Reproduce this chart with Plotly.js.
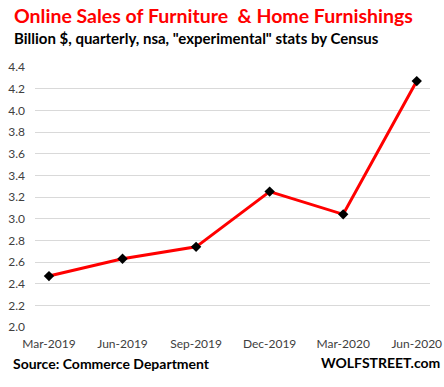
<!DOCTYPE html>
<html><head><meta charset="utf-8">
<script src="https://cdn.plot.ly/plotly-3.0.1.min.js"></script>
<style>html,body{margin:0;padding:0;background:#fff}#chart{width:444px;height:387px}</style>
</head><body><div id="chart"></div>
<script>
const quarters = ["Mar-2019","Jun-2019","Sep-2019","Dec-2019","Mar-2020","Jun-2020"];
const sales = [2.47, 2.63, 2.74, 3.25, 3.04, 4.27];
const yTicks = [2.0,2.2,2.4,2.6,2.8,3.0,3.2,3.4,3.6,3.8,4.0,4.2,4.4];
const xIdx = quarters.map((q,i)=>i);

const font = "Lato, 'Open Sans', sans-serif";
// plot area: x 35..430, y 67..327
const W = 444, H = 387, L = 35, R = 14, T = 67, B = 60;
const pw = W - L - R, ph = H - T - B;
const px = x => (x - L) / pw;
const py = y => (H - B - y) / ph;

Plotly.newPlot('chart', [{
  x: xIdx, y: sales, type: 'scatter', mode: 'lines+markers',
  line: {color: '#ff0000', width: 3},
  marker: {symbol: 'diamond', color: '#000', size: 8},
  hoverinfo: 'skip'
}], {
  width: W, height: H,
  margin: {l: L, r: R, t: T, b: B},
  paper_bgcolor: '#fff', plot_bgcolor: '#fff',
  showlegend: false,
  font: {family: font, color: '#404040', size: 12},
  xaxis: {
    range: [-0.19, 5.18], tickvals: xIdx, ticktext: quarters,
    showgrid: false, zeroline: false, showline: false, ticks: '',
    ticklabelstandoff: 8, tickfont: {size: 12, color: '#404040'}, fixedrange: true
  },
  yaxis: {
    range: [2.0, 4.4], tickvals: yTicks, ticktext: yTicks.map(v=>v.toFixed(1)),
    showgrid: true, gridcolor: '#d9d9d9', gridwidth: 1, zeroline: false, showline: false,
    ticks: '', ticklabelstandoff: 9, tickfont: {size: 12, color: '#404040'}, fixedrange: true
  },
  annotations: [
    {text: '<b>Online Sales of Furniture  &amp; Home Furnishings</b>', xref: 'paper', yref: 'paper',
     x: px(12), y: py(15), xanchor: 'left', yanchor: 'middle', showarrow: false,
     font: {family: font, size: 19.5, color: '#ff0000'}},
    {text: '<b>Billion $, quarterly, nsa, "experimental" stats by Census</b>', xref: 'paper', yref: 'paper',
     x: px(12), y: py(38), xanchor: 'left', yanchor: 'middle', showarrow: false,
     font: {family: font, size: 15, color: '#000'}},
    {text: '<b>Source: Commerce Department</b>', xref: 'paper', yref: 'paper',
     x: px(11), y: py(363), xanchor: 'left', yanchor: 'middle', showarrow: false,
     font: {family: font, size: 14, color: '#000'}},
    {text: '<b>WOLFSTREET.com</b>', xref: 'paper', yref: 'paper',
     x: px(442), y: py(362), xanchor: 'right', yanchor: 'middle', showarrow: false,
     font: {family: font, size: 14, color: '#000'}}
  ]
}, {staticPlot: true});
</script></body></html>
